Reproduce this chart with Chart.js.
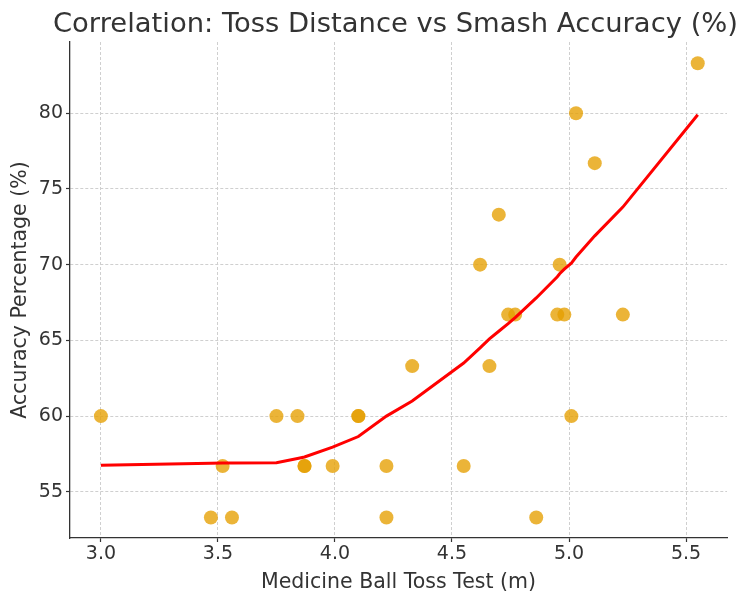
<!DOCTYPE html>
<html>
<head>
<meta charset="utf-8">
<script src="https://cdn.jsdelivr.net/npm/chart.js@4"></script>
<style>
	html, body { margin: 0; padding: 0; background: #fff; }
	#wrap { width: 744px; height: 595px; }
</style>
</head>
<body>
<div id="wrap"><canvas id="chart" width="744" height="595"></canvas></div>
<script>
// scatter values
const tossDist = [3.0, 3.47, 3.52, 3.56, 3.75, 3.84, 3.87, 3.87, 3.99, 4.10, 4.10, 4.22, 4.22, 4.33, 4.55, 4.62, 4.66, 4.70, 4.74, 4.77, 4.86, 4.95, 4.96, 4.98, 5.01, 5.03, 5.11, 5.23, 5.55];
const smashAcc = [60, 53.3, 56.7, 53.3, 60, 60, 56.7, 56.7, 56.7, 60, 60, 56.7, 53.3, 63.3, 56.7, 70, 63.3, 73.3, 66.7, 66.7, 53.3, 66.7, 70, 66.7, 60, 80, 76.7, 66.7, 83.3];

// smoothed trend (red line)
const trendX = [3.0, 3.47, 3.52, 3.56, 3.75, 3.84, 3.87, 3.99, 4.10, 4.22, 4.33, 4.55, 4.62, 4.66, 4.70, 4.74, 4.77, 4.86, 4.95, 4.96, 4.98, 5.01, 5.03, 5.11, 5.23, 5.55];
const trendY = [56.75, 56.88, 56.9, 56.9, 56.92, 57.2, 57.3, 57.95, 58.65, 60.0, 61.0, 63.5, 64.5, 65.1, 65.6, 66.1, 66.5, 67.8, 69.2, 69.4, 69.7, 70.1, 70.5, 71.9, 73.8, 79.9];

const xTicks = [3.0, 3.5, 4.0, 4.5, 5.0, 5.5];
const yTicks = [55, 60, 65, 70, 75, 80];

const titleText = 'Correlation: Toss Distance vs Smash Accuracy (%)';

const font = 'DejaVu Sans';
const ink = '#333333';

const points = tossDist.map((x, i) => ({ x, y: smashAcc[i] }));
const trend = trendX.map((x, i) => ({ x, y: trendY[i] }));

const keepTicks = list => scale => {
	scale.ticks = list.map(v => ({ value: v }));
};

// built-in title squeezes the text to the chart area, so draw it ourselves
const titlePlugin = {
	id: 'wideTitle',
	afterDraw(chart) {
		const ctx = chart.ctx;
		ctx.save();
		ctx.fillStyle = ink;
		ctx.font = '27.4px "' + font + '"';
		ctx.textAlign = 'center';
		ctx.textBaseline = 'alphabetic';
		ctx.fillText(titleText, 395.5, 31.7);
		ctx.restore();
	}
};

const grid = {
	color: '#cfcfcf',
	lineWidth: 1,
	tickColor: ink,
	tickBorderDash: [],
	tickLength: 4,
	tickWidth: 1.2
};
const border = { color: ink, width: 1.3, dash: [3, 2] };

new Chart(document.getElementById('chart').getContext('2d'), {
	type: 'scatter',
	data: {
		datasets: [{
			label: 'trend',
			type: 'line',
			data: trend,
			borderColor: 'rgb(255, 0, 0)',
			borderWidth: 3,
			pointRadius: 0,
			fill: false,
			tension: 0,
			order: 1
		}, {
			label: 'players',
			data: points,
			backgroundColor: 'rgba(230, 159, 0, 0.78)',
			borderWidth: 0,
			pointRadius: 7,
			order: 2
		}]
	},
	plugins: [titlePlugin],
	options: {
		responsive: false,
		animation: false,
		layout: { padding: { left: 0, right: 17, top: 42, bottom: 0 } },
		plugins: {
			legend: { display: false },
			tooltip: { enabled: false },
			title: { display: false }
		},
		scales: {
			x: {
				type: 'linear',
				min: 2.868,
				max: 5.675,
				afterBuildTicks: keepTicks(xTicks),
				afterFit: scale => { scale.height = 57; },
				grid: grid,
				border: border,
				ticks: {
					color: ink,
					font: { family: font, size: 19 },
					padding: 1,
					callback: v => v.toFixed(1)
				},
				title: {
					display: true,
					text: 'Medicine Ball Toss Test (m)',
					color: ink,
					font: { family: font, size: 20.5 },
					padding: { top: 0, bottom: 0 }
				}
			},
			y: {
				type: 'linear',
				min: 51.95,
				max: 84.7,
				afterBuildTicks: keepTicks(yTicks),
				afterFit: scale => { scale.width = 70; },
				grid: grid,
				border: border,
				ticks: {
					color: ink,
					font: { family: font, size: 19 },
					padding: 3,
					callback: v => String(v)
				},
				title: {
					display: true,
					text: 'Accuracy Percentage (%)',
					color: ink,
					font: { family: font, size: 20.5 },
					padding: { top: 8, bottom: 0 }
				}
			}
		}
	}
});
</script>
</body>
</html>
